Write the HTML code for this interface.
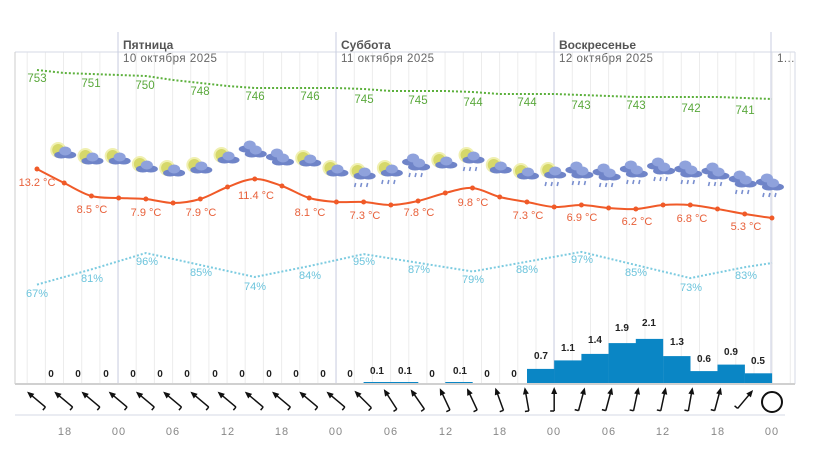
<!DOCTYPE html>
<html><head><meta charset="utf-8"><style>
body{margin:0;background:#fff;width:820px;height:450px;overflow:hidden}
svg{display:block;font-family:"Liberation Sans","DejaVu Sans",sans-serif}
.t{fill:#e8603a;font-size:11px;text-anchor:middle}
.p{fill:#5aa83c;font-size:11.5px;text-anchor:middle}
.h{fill:#6cc4dc;font-size:11px;text-anchor:middle}
.r{fill:#222;font-size:10px;font-weight:bold;text-anchor:middle}
.x{fill:#888;font-size:11px;text-anchor:middle;letter-spacing:1px}
</style></head><body>
<svg id="s" width="820" height="450" viewBox="0 0 820 450">
<g id="grid"></g>
<line x1="15" y1="52" x2="795" y2="52" stroke="#d6dae6"/>
<line x1="15" y1="52" x2="15" y2="384" stroke="#ccc"/>
<line x1="795" y1="52" x2="795" y2="384" stroke="#d6dae6"/>
<line x1="118" y1="32" x2="118" y2="384" stroke="#c8cde0"/>
<line x1="336" y1="32" x2="336" y2="384" stroke="#c8cde0"/>
<line x1="554" y1="32" x2="554" y2="384" stroke="#c8cde0"/>
<line x1="771" y1="32" x2="771" y2="384" stroke="#c8cde0"/>
<text x="123" y="49" fill="#555" font-size="12" font-weight="bold">Пятница</text>
<text x="123" y="62" fill="#666" font-size="11.5" letter-spacing="0.5">10 октября 2025</text>
<text x="341" y="49" fill="#555" font-size="12" font-weight="bold">Суббота</text>
<text x="341" y="62" fill="#666" font-size="11.5" letter-spacing="0.5">11 октября 2025</text>
<text x="559" y="49" fill="#555" font-size="12" font-weight="bold">Воскресенье</text>
<text x="559" y="62" fill="#666" font-size="11.5" letter-spacing="0.5">12 октября 2025</text>
<text x="777" y="62" fill="#666" font-size="11.5">1…</text>
<g id="bars"></g>
<line x1="15" y1="384" x2="795" y2="384" stroke="#d0d0d0" stroke-width="2"/>
<line x1="15" y1="415" x2="785" y2="415" stroke="#d6dae6"/>
<polyline id="pl" fill="none" stroke="#5cb03c" stroke-width="2" stroke-dasharray="2,2"/>
<polyline id="hl" fill="none" stroke="#7ccbe0" stroke-width="2" stroke-dasharray="2,2"/>
<g id="icons"></g>
<path id="tc" fill="none" stroke="#f05a28" stroke-width="2"/>
<g id="tdots"></g>
<g id="wind"></g>
<text class="p" x="37" y="82">753</text><text class="p" x="91" y="87">751</text><text class="p" x="145" y="89">750</text><text class="p" x="200" y="95">748</text><text class="p" x="255" y="100">746</text><text class="p" x="310" y="100">746</text><text class="p" x="364" y="103">745</text><text class="p" x="418" y="104">745</text><text class="p" x="473" y="106">744</text><text class="p" x="527" y="106">744</text><text class="p" x="581" y="109">743</text><text class="p" x="636" y="109">743</text><text class="p" x="691" y="112">742</text><text class="p" x="745" y="114">741</text>
<text class="t" x="37" y="186">13.2 °C</text><text class="t" x="92" y="213">8.5 °C</text><text class="t" x="146" y="216">7.9 °C</text><text class="t" x="201" y="216">7.9 °C</text><text class="t" x="256" y="199">11.4 °C</text><text class="t" x="310" y="216">8.1 °C</text><text class="t" x="365" y="219">7.3 °C</text><text class="t" x="419" y="216">7.8 °C</text><text class="t" x="473" y="206">9.8 °C</text><text class="t" x="528" y="219">7.3 °C</text><text class="t" x="582" y="221">6.9 °C</text><text class="t" x="637" y="225">6.2 °C</text><text class="t" x="692" y="222">6.8 °C</text><text class="t" x="746" y="230">5.3 °C</text>
<text class="h" x="37" y="297">67%</text><text class="h" x="92" y="282">81%</text><text class="h" x="147" y="265">96%</text><text class="h" x="201" y="276">85%</text><text class="h" x="255" y="290">74%</text><text class="h" x="310" y="279">84%</text><text class="h" x="364" y="265">95%</text><text class="h" x="419" y="273">87%</text><text class="h" x="473" y="283">79%</text><text class="h" x="527" y="273">88%</text><text class="h" x="582" y="263">97%</text><text class="h" x="636" y="276">85%</text><text class="h" x="691" y="291">73%</text><text class="h" x="746" y="279">83%</text>
<g id="rl">
<text class="r" x="51" y="377">0</text><text class="r" x="78" y="377">0</text><text class="r" x="106" y="377">0</text><text class="r" x="133" y="377">0</text><text class="r" x="160" y="377">0</text><text class="r" x="187" y="377">0</text><text class="r" x="215" y="377">0</text><text class="r" x="242" y="377">0</text><text class="r" x="269" y="377">0</text><text class="r" x="296" y="377">0</text><text class="r" x="323" y="377">0</text><text class="r" x="350" y="377">0</text><text class="r" x="377" y="374">0.1</text><text class="r" x="405" y="374">0.1</text><text class="r" x="432" y="377">0</text><text class="r" x="460" y="374">0.1</text><text class="r" x="487" y="377">0</text><text class="r" x="514" y="377">0</text>
<text class="r" x="541" y="359">0.7</text><text class="r" x="568" y="351">1.1</text><text class="r" x="595" y="343">1.4</text><text class="r" x="622" y="331">1.9</text><text class="r" x="649" y="326">2.1</text><text class="r" x="677" y="345">1.3</text><text class="r" x="704" y="362">0.6</text><text class="r" x="731" y="355">0.9</text><text class="r" x="758" y="364">0.5</text>
</g>
<text class="x" x="65" y="435">18</text><text class="x" x="119" y="435">00</text><text class="x" x="173" y="435">06</text><text class="x" x="228" y="435">12</text><text class="x" x="282" y="435">18</text><text class="x" x="336" y="435">00</text><text class="x" x="391" y="435">06</text><text class="x" x="446" y="435">12</text><text class="x" x="500" y="435">18</text><text class="x" x="554" y="435">00</text><text class="x" x="609" y="435">06</text><text class="x" x="663" y="435">12</text><text class="x" x="718" y="435">18</text><text class="x" x="772" y="435">00</text>
</svg>
<script>
var NS="http://www.w3.org/2000/svg";
function el(p,n,a){var e=document.createElementNS(NS,n);for(var k in a)e.setAttribute(k,a[k]);document.getElementById(p).appendChild(e);return e;}
var X=function(i){return 37+i*27.22;};
for(var g=27.2;g<795;g+=18.17){el("grid","line",{x1:g.toFixed(1),y1:52,x2:g.toFixed(1),y2:384,stroke:"#ececec"});}
// temperature
var T=[169,183,196,198,199,203,199,187,179,186,198,202,202,205,201,193,188,197,202,207,205,208,209,205,205,209,214,218];
var pts=T.map(function(y,i){return [X(i),y];});
var d="M"+pts[0][0]+","+pts[0][1];
for(var i=0;i<pts.length-1;i++){var p0=pts[i-1]||pts[i],p1=pts[i],p2=pts[i+1],p3=pts[i+2]||p2;
d+=" C"+(p1[0]+(p2[0]-p0[0])/6)+","+(p1[1]+(p2[1]-p0[1])/6)+" "+(p2[0]-(p3[0]-p1[0])/6)+","+(p2[1]-(p3[1]-p1[1])/6)+" "+p2[0]+","+p2[1];}
document.getElementById("tc").setAttribute("d",d);
pts.forEach(function(p){el("tdots","circle",{cx:p[0],cy:p[1],r:2.5,fill:"#f05a28"});});
// pressure
var P=[70,72,74,75,76,79,82,85,88,88,88,88,88,90,91,91,91,93,94,94,94,96,97,97,97,97,97,98,99,100,101,102];
var Pp=[70,73,74,75,76,80,83,86,88,88,88,88,89,91,91,91,92,94,94,94,95,96,97,97,97,97,98,99,100,101,102,102];
var ps=[];for(i=0;i<28;i++)ps.push(X(i).toFixed(1)+","+Pp[i]);
document.getElementById("pl").setAttribute("points",ps.join(" "));
// humidity every 6h
var H=[67,81,96,85,74,84,95,87,79,88,97,85,73,83];
var hs=[];H.forEach(function(h,i){hs.push(X(2*i).toFixed(1)+","+(253+(96-h)*1.09).toFixed(1));});
hs.push("772,263");
document.getElementById("hl").setAttribute("points",hs.join(" "));
// bars
var B=[0,0,0,0,0,0,0,0,0,0,0,0,0.1,0.1,0,0.1,0,0,0.7,1.1,1.4,1.9,2.1,1.3,0.6,0.9,0.5];
B.forEach(function(v,i){if(v>0){var h=v>0.15?v*21.5:2;el("bars","rect",{x:X(i).toFixed(1),y:(384-h).toFixed(1),width:27.4,height:h.toFixed(1),fill:"#0a86c5"});}});
// icons
var IY=[152,158,158,166,170,167,157,150,158,160,170,173,170,163,162,157,167,173,172,171,173,170,167,170,172,180,183];
var rain=[0,0,0,0,0,0,0,0,0,0,0,1,1,1,0,1,0,0,1,1,1,1,1,1,1,1,1];
var sun=[1,1,1,1,1,1,1,0,0,1,1,1,1,0,1,1,1,1,1,0,0,0,0,0,0,0,0];
function cloud(x,y){el("icons","ellipse",{cx:x-4,cy:y+2,rx:7,ry:3.5,fill:"#6f84c8"});el("icons","ellipse",{cx:x+4,cy:y+2,rx:7,ry:3.5,fill:"#6f84c8"});el("icons","ellipse",{cx:x,cy:y-2,rx:6,ry:4.5,fill:"#8fa2dc"});}
IY.forEach(function(y,i){var x=X(i+1)-2;
 if(sun[i]){el("icons","circle",{cx:x-4,cy:y-2,r:7,fill:"#d6d86a",stroke:"#f0f0b0","stroke-width":2});cloud(x+3,y+1);}
 else{cloud(x-3,y-3);cloud(x+3,y+2);}
 if(rain[i]){for(var k=-1;k<=1;k++)el("icons","line",{x1:x+k*6,y1:y+10,x2:x+k*6-1,y2:y+14,stroke:"#7a8fcf","stroke-width":1.6});}
});
// wind
var W=[-50,-50,-50,-50,-50,-50,-50,-50,-50,-50,-50,-50,-45,-33,-35,-25,-25,-20,-10,0,15,15,12,12,10,15,40];
W.forEach(function(a,i){var x=X(i),y=400,L=11,r=a*Math.PI/180;
 var dx=Math.sin(r)*L,dy=-Math.cos(r)*L;
 var g=el("wind","g",{});
 var ln=document.createElementNS(NS,"line");ln.setAttribute("x1",x-dx);ln.setAttribute("y1",y-dy);ln.setAttribute("x2",x+dx);ln.setAttribute("y2",y+dy);ln.setAttribute("stroke","#111");ln.setAttribute("stroke-width","1.5");g.appendChild(ln);
 var hx=x+dx,hy=y+dy,ux=dx/L,uy=dy/L;
 var pg=document.createElementNS(NS,"polygon");
 pg.setAttribute("points",(hx+ux*2)+","+(hy+uy*2)+" "+(hx-ux*5-uy*3)+","+(hy-uy*5+ux*3)+" "+(hx-ux*5+uy*3)+","+(hy-uy*5-ux*3));pg.setAttribute("fill","#111");g.appendChild(pg);
 var tx=x-dx,ty=y-dy,b=document.createElementNS(NS,"line");b.setAttribute("x1",tx);b.setAttribute("y1",ty);b.setAttribute("x2",tx+uy*4);b.setAttribute("y2",ty-ux*4);b.setAttribute("stroke","#111");b.setAttribute("stroke-width","1.5");g.appendChild(b);
});
el("wind","circle",{cx:772,cy:402,r:10,fill:"none",stroke:"#111","stroke-width":2});
</script>
</body></html>
